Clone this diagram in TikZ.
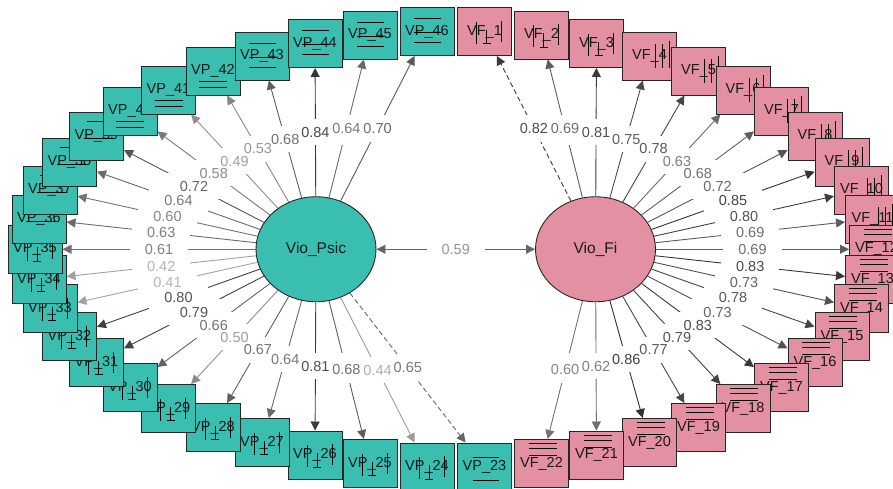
\documentclass[tikz,border=0pt]{standalone}
\usepackage{fontspec}
\setmainfont{Liberation Sans}
\usetikzlibrary{arrows.meta,shapes.geometric}
\definecolor{tealfill}{RGB}{58,190,176}
\definecolor{pinkfill}{RGB}{227,144,162}
\pgfdeclarelayer{edges}
\pgfdeclarelayer{lblbg}
\pgfsetlayers{edges,lblbg,main}
\tikzset{
  every node/.style={font=\fontsize{14.5}{17}\selectfont},
  lat/.style={ellipse, draw=black!85, line width=0.9pt, minimum width=120pt, minimum height=105pt, inner sep=0pt, text=black!90, font=\fontsize{15.5}{18}\selectfont},
  mbox/.style={rectangle, draw=black!85, line width=1pt, minimum width=54pt, minimum height=48pt, inner sep=0pt, text=black!90},
  vpbox/.style={mbox, fill=tealfill},
  vfbox/.style={mbox, fill=pinkfill},
  resid/.style={draw=black, line width=0.8pt},
  edge/.style={line width=0.9pt, -{Triangle[length=9pt,width=9pt]}},
  lblbg/.style={fill=white, inner xsep=15pt, inner ysep=8pt},
  lbl/.style={inner sep=0pt},
  dashedge/.style={dash pattern=on 5pt off 3pt},
  solidedge/.style={},
}
% residual-line patterns inside the boxes
\newcommand\resA[1]{\draw[resid] (#1.center) ++(-13,-13) -- ++(27,0) (#1.center) ++(-13,1) -- ++(27,0) (#1.center) ++(-13,11) -- ++(27,0);}
\newcommand\resS[1]{\draw[resid] (#1.center) ++(-10,-15) -- ++(18,0) (#1.center) ++(-13,2) -- ++(29,0);}
\newcommand\resB[1]{\draw[resid] (#1.center) ++(-14,10) -- ++(28,0) (#1.center) ++(-14,16) -- ++(28,0);}
\newcommand\resV[1]{\draw[resid] (#1.center) ++(-8,-10) -- ++(0,22) (#1.center) ++(2,-2) -- ++(0,14) (#1.center) ++(-2,12) -- ++(8,0) (#1.center) ++(17,-11) -- ++(0,21);}
\newcommand\resW[1]{\draw[resid] (#1.center) ++(6,-12) -- ++(0,24) (#1.center) ++(13,-12) -- ++(0,24) (#1.center) ++(20,-15) -- ++(0,27);}
\newcommand\resD[1]{\draw[resid] (#1.center) ++(-13,-20) -- ++(28,0) (#1.center) ++(-13,-15) -- ++(28,0) (#1.center) ++(-13,-8) -- ++(28,0);}
\newcommand\resE[1]{\draw[resid] (#1.center) ++(-12,-10) -- ++(26,0) (#1.center) ++(-12,13) -- ++(26,0);}
% loading edge: [style] latent box value
\newcommand\ld[4][solidedge]{%
  \pgfmathsetmacro\edgepct{100*#4-5}%
  \pgfmathsetmacro\lblpct{100*#4-12}%
  \colorlet{edgecol}{black!\edgepct}%
  \colorlet{lblcol}{black!\lblpct}%
  \begin{pgfonlayer}{edges}
    \draw[edge,edgecol,#1] (#2) -- coordinate[midway] (m-#3) (#3);
  \end{pgfonlayer}
  \begin{pgfonlayer}{lblbg}
    \node[lblbg] at (m-#3) {\phantom{#4}};
  \end{pgfonlayer}
  \node[lbl,text=lblcol] at (m-#3) {#4};
}
\begin{document}
\begin{tikzpicture}[x=1pt,y=-1pt]
\useasboundingbox (0,0) rectangle (893,488);
\node[lat, fill=tealfill] (psic) at (316,249.25) {Vio\_Psic};
\node[lat, fill=pinkfill] (fi) at (595.5,249.25) {Vio\_Fi};
% correlation
\begin{pgfonlayer}{edges}
\draw[line width=0.9pt, black!60, {Triangle[length=9pt,width=9pt]}-{Triangle[length=9pt,width=9pt]}] (psic) -- coordinate[midway] (mcor) (fi);
\end{pgfonlayer}
\begin{pgfonlayer}{lblbg}
\node[lblbg] at (mcor) {\phantom{0.59}};
\end{pgfonlayer}
\node[lbl, text=black!42] at (mcor) {0.59};
% Vio_Psic indicators
\foreach \n/\x/\y/\t/\L/\s in {
 23/484.5/467/E/0.65/dashedge,
 24/427/467/V/0.44/solidedge,
 25/370/463.5/V/0.68/solidedge,
 26/315/455/V/0.81/solidedge,
 27/262/442.5/V/0.64/solidedge,
 28/213/427.5/V/0.67/solidedge,
 29/168.5/408.5/V/0.50/solidedge,
 30/130/387.5/V/0.66/solidedge,
 31/96.5/362.5/V/0.79/solidedge,
 32/69.5/336.5/V/0.80/solidedge,
 33/50/308.5/V/0.41/solidedge,
 34/39/279.5/V/0.42/solidedge,
 35/35/249.25/V/0.61/solidedge,
 36/39/219/S/0.63/solidedge,
 37/50/190/S/0.60/solidedge,
 38/69.5/162/S/0.64/solidedge,
 39/96.5/136/S/0.72/solidedge,
 40/130/111/B/0.58/solidedge,
 41/168.5/90/B/0.49/solidedge,
 42/213/71/B/0.53/solidedge,
 43/262/56/A/0.68/solidedge,
 44/315/43.5/A/0.84/solidedge,
 45/370/35/A/0.64/solidedge,
 46/427/31.5/A/0.70/solidedge}{
  \node[vpbox] (vp\n) at (\x,\y) {VP\_\n};
  \csname res\t\endcsname{vp\n}
  \ld[\s]{psic}{vp\n}{\L}
}
% Vio_Fi indicators
\foreach \n/\x/\y/\t/\L/\s in {
 1/484.5/31.5/V/0.82/dashedge,
 2/541.5/35/V/0.69/solidedge,
 3/596.5/43.5/V/0.81/solidedge,
 4/649.5/56/W/0.75/solidedge,
 5/698.5/71/W/0.78/solidedge,
 6/743/90/W/0.63/solidedge,
 7/781.5/111/W/0.68/solidedge,
 8/815/136/W/0.72/solidedge,
 9/842/162/W/0.85/solidedge,
 10/861.5/190/W/0.80/solidedge,
 11/872.5/219/W/0.69/solidedge,
 12/876.5/249.25/D/0.69/solidedge,
 13/872.5/279.5/D/0.83/solidedge,
 14/861.5/308.5/D/0.73/solidedge,
 15/842/336.5/D/0.78/solidedge,
 16/815/362.5/D/0.73/solidedge,
 17/781.5/387.5/D/0.83/solidedge,
 18/743/408.5/D/0.79/solidedge,
 19/698.5/427.5/D/0.77/solidedge,
 20/649.5/442.5/D/0.86/solidedge,
 21/596.5/455/D/0.62/solidedge,
 22/541.5/463.5/D/0.60/solidedge}{
  \node[vfbox] (vf\n) at (\x,\y) {VF\_\n};
  \csname res\t\endcsname{vf\n}
  \ld[\s]{fi}{vf\n}{\L}
}
\end{tikzpicture}
\end{document}
